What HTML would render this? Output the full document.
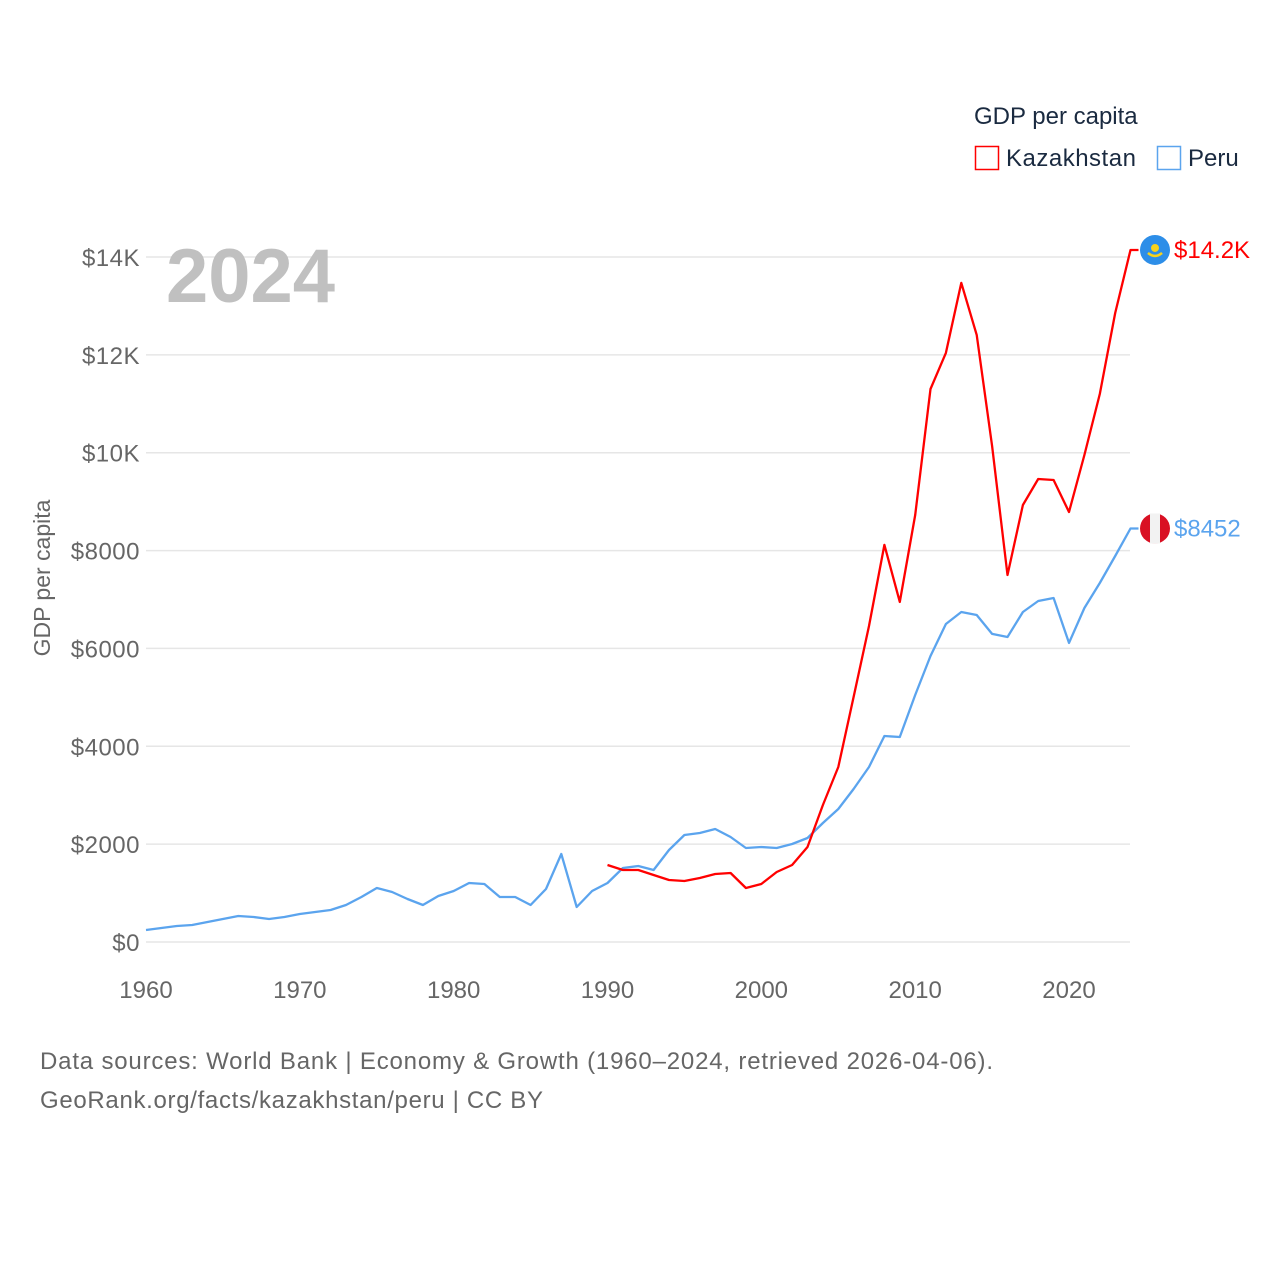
<!DOCTYPE html>
<html><head><meta charset="utf-8"><style>
body{margin:0;background:#fff;}
svg text{font-family:"Liberation Sans",sans-serif;}
</style></head><body>
<svg id="chart" width="1280" height="1280" xmlns="http://www.w3.org/2000/svg">
<g id="grid"></g>
<g id="yticks"></g>
<g id="xticks"></g>
<text x="166" y="302" font-size="76" font-weight="bold" fill="#c0c0c0">2024</text>
<text transform="translate(50,578) rotate(-90)" text-anchor="middle" font-size="23" fill="#666">GDP per capita</text>
<text x="974" y="124" font-size="24" fill="#1a2a40">GDP per capita</text>
<g><rect x="975.5" y="146.5" width="23" height="23" fill="none" stroke="#f00" stroke-width="1.5"/><text x="1006" y="166" font-size="24" fill="#1a2a40" letter-spacing="0.5">Kazakhstan</text></g>
<g><rect x="1157.5" y="146.5" width="23" height="23" fill="none" stroke="#5ba4ee" stroke-width="1.5"/><text x="1188" y="166" font-size="24" fill="#1a2a40">Peru</text></g>
<g id="series"></g>
<g id="ends"></g>
<text x="40" y="1069" font-size="24" fill="#666" textLength="953">Data sources: World Bank | Economy &amp; Growth (1960–2024, retrieved 2026-04-06).</text>
<text x="40" y="1108" font-size="24" fill="#666" textLength="503">GeoRank.org/facts/kazakhstan/peru | CC BY</text>
</svg>
<script>
const yTicks=[0,2000,4000,6000,8000,10000,12000,14000];
const yTickLabels=["$0","$2000","$4000","$6000","$8000","$10K","$12K","$14K"];
const xTicks=[1960,1970,1980,1990,2000,2010,2020];
const peruStart=1960;
const peruValues=[245,286,327,347,409,470,531,511,470,511,572,613,654,756,920,1104,1022,879,756,940,1042,1206,1186,920,920,756,1083,1799,715,1042,1206,1513,1553,1472,1880,2187,2228,2310,2146,1921,1942,1921,2003,2126,2432,2719,3127,3577,4210,4190,5049,5846,6500,6745,6684,6296,6234,6745,6970,7031,6112,6827,7338,7890,8452];
const kazStart=1990;
const kazValues=[1574,1472,1472,1370,1267,1247,1308,1390,1410,1104,1186,1431,1574,1942,2800,3577,5008,6459,8115,6950,8728,11303,12039,13470,12407,10138,7501,8932,9463,9443,8789,9954,11201,12856,14144];
const endLabels=["$14.2K","$8452"];
const NS="http://www.w3.org/2000/svg";
const X=y=>146+(y-1960)*(923/60);
const Y=v=>942-v*(685/14000);
function mk(t,a,p){const e=document.createElementNS(NS,t);for(const k in a)e.setAttribute(k,a[k]);p.appendChild(e);return e;}
const grid=document.getElementById('grid'),yt=document.getElementById('yticks'),xt=document.getElementById('xticks');
yTicks.forEach((v,i)=>{
  const l=mk('line',{x1:146,x2:1130,y1:Y(v),y2:Y(v),stroke:'#e6e6e6','stroke-width':1.5},grid);
  
  
  const t=mk('text',{x:140,y:Y(v)+9,'text-anchor':'end','font-size':24,fill:'#666','letter-spacing':'0.5'},yt);
  t.textContent=yTickLabels[i];
  
  
});
xTicks.forEach(y=>{
  const t=mk('text',{x:X(y),y:998,'text-anchor':'middle','font-size':24,fill:'#666'},xt);
  t.textContent=y;
  
  
});
const ser=document.getElementById('series');
function line(start,vals,color,name){
  let pts=vals.map((v,i)=>X(start+i).toFixed(1)+','+Y(v).toFixed(1));
  const last=vals[vals.length-1];
  pts.push((X(start+vals.length-1)+8).toFixed(1)+','+Y(last).toFixed(1));
  const p=mk('polyline',{points:pts.join(' '),fill:'none',stroke:color,'stroke-width':2.3,'stroke-linejoin':'round'},ser);
  
  
}
line(peruStart,peruValues,'#5ba4ee','peru-line');
line(kazStart,kazValues,'#f00','kazakhstan-line');
const ends=document.getElementById('ends');
const ky=Y(kazValues[kazValues.length-1]), py=Y(peruValues[peruValues.length-1]);
const kf=mk('g',{},ends);


mk('circle',{cx:1155,cy:ky,r:15,fill:'#2d8ee8'},kf);
mk('circle',{cx:1155,cy:ky-2,r:4,fill:'#f7d21b'},kf);
mk('path',{d:`M1148 ${ky+3} Q1155 ${ky+9} 1162 ${ky+3}`,stroke:'#f7d21b','stroke-width':2.5,fill:'none'},kf);
const pf=mk('g',{},ends);


mk('circle',{cx:1155,cy:py,r:15,fill:'#d91023'},pf);
mk('rect',{x:1150,y:py-15,width:10,height:30,fill:'#f2f2f2'},pf);
const kt=mk('text',{x:1174,y:ky+8,'font-size':24,fill:'#f00'},ends);
kt.textContent=endLabels[0];


const pt=mk('text',{x:1174,y:py+8,'font-size':24,fill:'#5ba4ee'},ends);
pt.textContent=endLabels[1];


</script>
</body></html>
